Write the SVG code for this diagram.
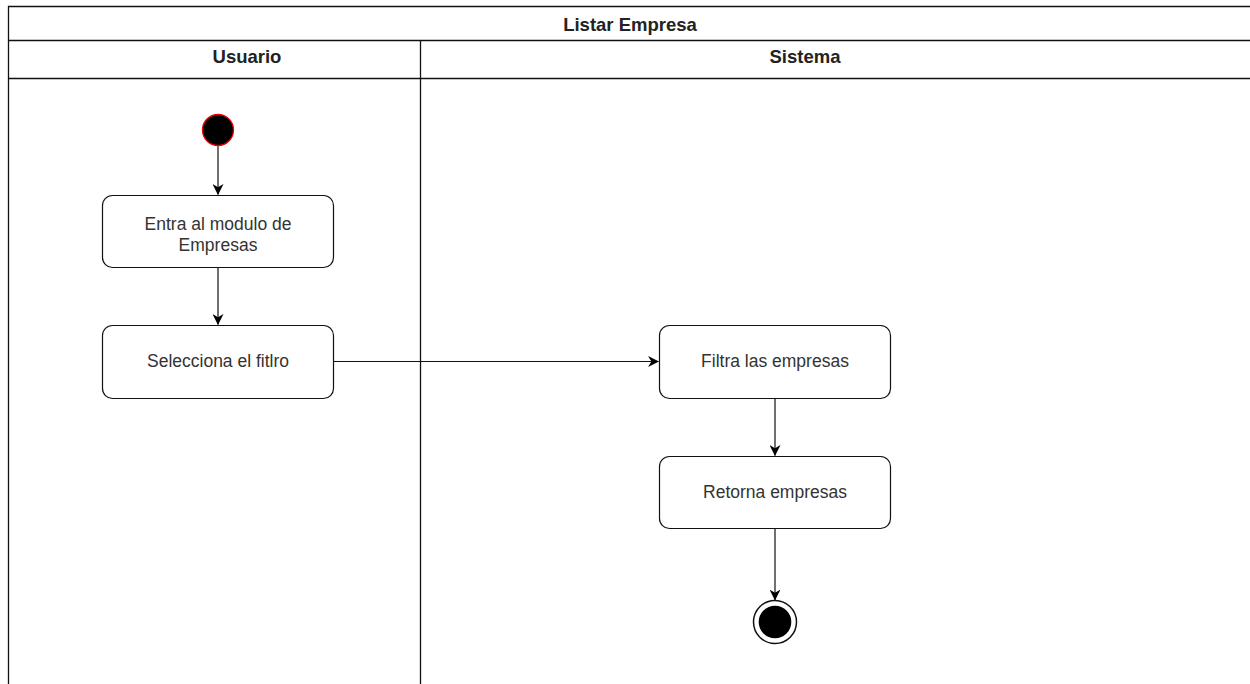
<svg xmlns="http://www.w3.org/2000/svg" width="1250" height="684" viewBox="0 0 1250 684">
  <style>
    .lane { fill: none; stroke: #111; stroke-width: 1.3; }
    .head { font-family: "Liberation Sans", Arial, sans-serif; font-size: 18.5px; font-weight: bold; fill: #222; text-anchor: middle; }
    .act { fill: #fff; stroke: #111; stroke-width: 1.2; }
    .lbl { font-family: "Liberation Sans", Arial, sans-serif; font-size: 17.5px; fill: #333; text-anchor: middle; }
    .edge { fill: none; stroke: #111; stroke-width: 1.2; }
  </style>
  <defs>
    <marker id="arrow" viewBox="0 0 10 10" refX="9.5" refY="5" markerWidth="11" markerHeight="11" markerUnits="userSpaceOnUse" orient="auto">
      <path d="M0,0 L10,5 L0,10 L3,5 Z" fill="#000"/>
    </marker>
  </defs>
  <rect width="1250" height="684" fill="#fff"/>

  <!-- swimlane frame -->
  <g id="pool">
    <path class="lane" d="M8.5,684 V6.5 H1250"/>
    <line class="lane" x1="8" y1="40.5" x2="1250" y2="40.5"/>
    <line class="lane" x1="8" y1="78.5" x2="1250" y2="78.5"/>
    <line class="lane" x1="420.5" y1="40" x2="420.5" y2="684"/>
    <text class="head" x="630" y="31">Listar Empresa</text>
    <text class="head" x="247" y="63">Usuario</text>
    <text class="head" x="805" y="63">Sistema</text>
  </g>

  <!-- connectors -->
  <g id="connectors">
    <line class="edge" x1="218" y1="146" x2="218" y2="194.5" marker-end="url(#arrow)"/>
    <line class="edge" x1="218" y1="267" x2="218" y2="324.5" marker-end="url(#arrow)"/>
    <line class="edge" x1="333" y1="361.5" x2="658.5" y2="361.5" marker-end="url(#arrow)"/>
    <line class="edge" x1="775" y1="398" x2="775" y2="455.5" marker-end="url(#arrow)"/>
    <line class="edge" x1="775" y1="528" x2="775" y2="600" marker-end="url(#arrow)"/>
  </g>

  <g id="start">
    <circle cx="218" cy="130" r="15.5" fill="#000" stroke="#e00" stroke-width="1.3"/>
  </g>

  <g id="entra">
    <rect class="act" x="102.5" y="195.5" width="231" height="72" rx="10"/>
    <text class="lbl" x="218" y="230">Entra al modulo de</text>
    <text class="lbl" x="218" y="251">Empresas</text>
  </g>

  <g id="selecciona">
    <rect class="act" x="102.5" y="325.5" width="231" height="73" rx="10"/>
    <text class="lbl" x="218" y="367">Selecciona el fitlro</text>
  </g>

  <g id="filtra">
    <rect class="act" x="659.5" y="325.5" width="231" height="73" rx="10"/>
    <text class="lbl" x="775" y="367">Filtra las empresas</text>
  </g>

  <g id="retorna">
    <rect class="act" x="659.5" y="456.5" width="231" height="72" rx="10"/>
    <text class="lbl" x="775" y="498">Retorna empresas</text>
  </g>

  <g id="end">
    <circle cx="775" cy="622" r="21.5" fill="#fff" stroke="#111" stroke-width="1.5"/>
    <circle cx="775" cy="622" r="16.3" fill="#000"/>
  </g>
</svg>
